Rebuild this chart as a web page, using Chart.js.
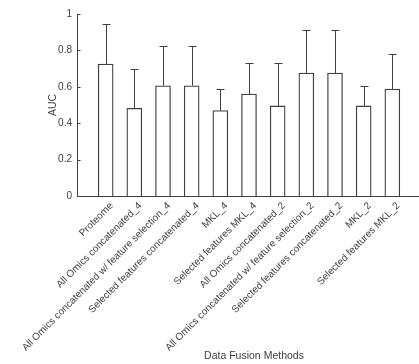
<!DOCTYPE html>
<html><head><meta charset="utf-8">
<script src="https://cdn.jsdelivr.net/npm/chart.js@4"></script>
<style>html,body{margin:0;padding:0;overflow:hidden;background:#fff;width:419px;height:364px}
#wrap{position:absolute;left:0;top:0;width:421px;height:364px}</style>
</head><body><div id="wrap"><canvas id="c" width="421" height="364"></canvas></div>
<script>
const categories = ["Proteome","All Omics concatenated_4","All Omics concatenated w/ feature selection_4","Selected features concatenated_4","MKL_4","Selected features MKL_4","All Omics concatenated_2","All Omics concatenated w/ feature selection_2","Selected features concatenated_2","MKL_2","Selected features MKL_2"];
const aucMean = [0.725,0.482,0.606,0.606,0.469,0.560,0.495,0.676,0.676,0.495,0.588];
const aucUpper = [0.947,0.698,0.824,0.824,0.586,0.732,0.731,0.910,0.910,0.603,0.780];
const yTicks = [0,0.2,0.4,0.6,0.8,1];

const labels = ["", ...categories, ""];
const barData = [null, ...aucMean, null];
const upperData = [null, ...aucUpper, null];

const ink = '#404040';
const txt = '#404040';
const fontFam = 'Liberation Sans, Arial';
const errPlugin = {
  id:'err',
  afterDatasetsDraw(chart){
    const ctx = chart.ctx, xs = chart.scales.x, ys = chart.scales.y;
    ctx.save();
    ctx.strokeStyle = ink; ctx.lineWidth = 1;
    upperData.forEach((u,i)=>{
      if(u==null) return;
      const x = Math.round(xs.getPixelForValue(i))+0.5;
      const y0 = ys.getPixelForValue(barData[i]);
      const y1 = Math.round(ys.getPixelForValue(u))+0.5;
      ctx.beginPath(); ctx.moveTo(x,y0); ctx.lineTo(x,y1);
      ctx.moveTo(x-4,y1); ctx.lineTo(x+4,y1); ctx.stroke();
    });
    const xl = Math.round(xs.left)+0.5;
    yTicks.forEach(t=>{
      const y = Math.round(ys.getPixelForValue(t))+0.5;
      ctx.beginPath(); ctx.moveTo(xl,y); ctx.lineTo(xl+3,y); ctx.stroke();
    });
    // x-axis title
    ctx.fillStyle = txt;
    ctx.font = '10.5px ' + fontFam;
    ctx.textAlign = 'center'; ctx.textBaseline = 'middle';
    ctx.fillText('Data Fusion Methods', (xs.left + xs.right)/2 + 5, xs.bottom - 8);
    ctx.restore();
  }
};

new Chart(document.getElementById('c'), {
  type:'bar',
  data:{labels, datasets:[{data:barData, backgroundColor:'#ffffff', borderColor:ink, borderWidth:1.3, barThickness:15}]},
  options:{
    responsive:false, animation:false,
    layout:{padding:{left:43,top:14,right:0,bottom:0}},
    plugins:{legend:{display:false}, tooltip:{enabled:false}},
    scales:{
      x:{
        offset:false,
        grid:{display:false, drawTicks:false},
        border:{display:true,color:ink,width:1},
        ticks:{autoSkip:false,minRotation:45,maxRotation:45,color:txt,padding:4,labelOffset:6,font:{family:fontFam,size:10}},
        title:{display:false},
        afterFit(s){s.height=168; s.paddingLeft=0; s.paddingRight=0;}
      },
      y:{
        min:0,max:1,
        afterBuildTicks(s){s.ticks = yTicks.map(v=>({value:v}));},
        grid:{display:false, drawTicks:false},
        border:{display:true,color:ink,width:1},
        ticks:{color:txt,padding:5,font:{family:fontFam,size:10},callback:(v)=>String(v)},
        title:{display:true,text:'AUC',color:txt,font:{family:fontFam,size:10.5}},
        afterFit(s){s.width=34; s.paddingTop=0; s.paddingBottom=0;}
      }
    }
  },
  plugins:[errPlugin]
});
</script></body></html>
